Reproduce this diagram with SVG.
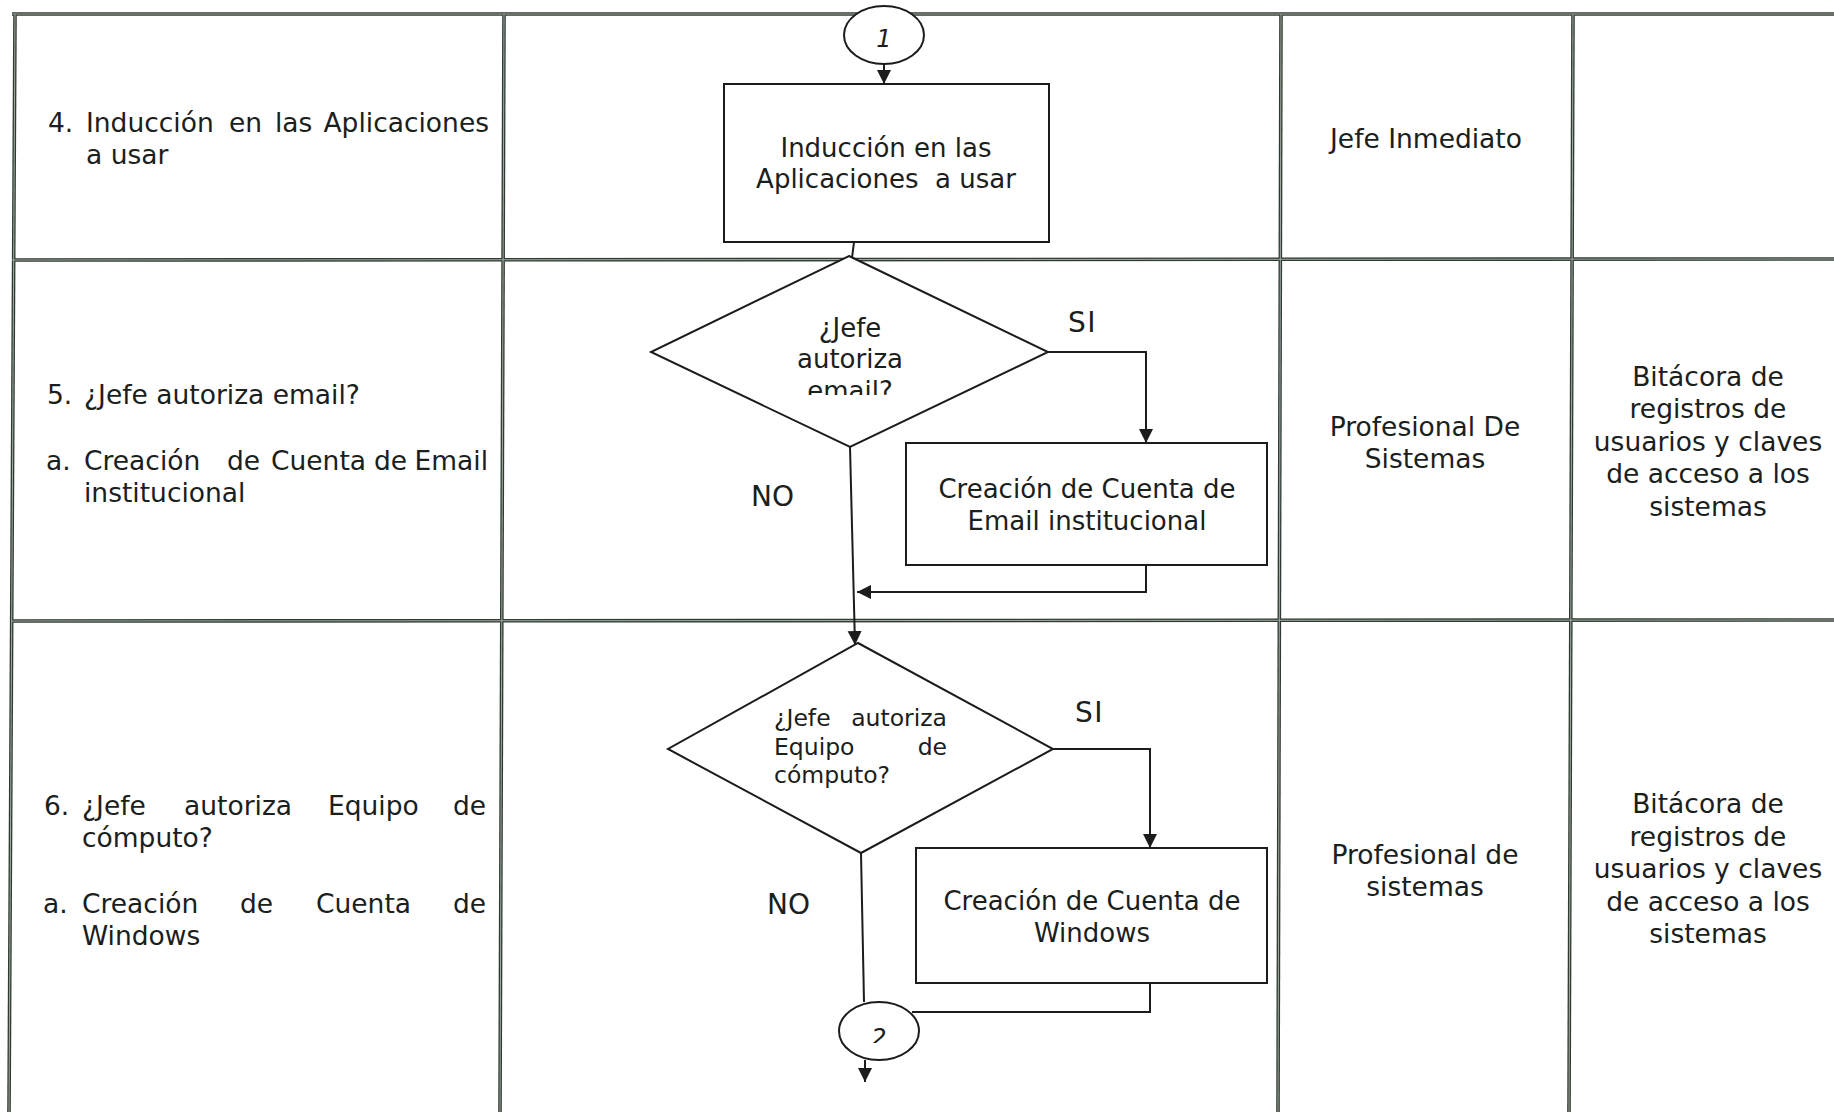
<svg xmlns="http://www.w3.org/2000/svg" width="1834" height="1112" viewBox="0 0 1834 1112">
<style>
  .g1{stroke:#2f3b32;stroke-width:3.6;fill:none}
  .g2{stroke:#a3aba4;stroke-width:1;fill:none}
  .shape{fill:#fff;stroke:#1c1c1c;stroke-width:2}
  .conn{fill:none;stroke:#1c1c1c;stroke-width:2}
  text{font-family:"DejaVu Sans","Verdana",sans-serif;fill:#1a201b;font-size:26.5px}
  .c{text-anchor:middle}
  .e{text-anchor:end}
  .fc{font-size:26px}
  .d2{font-size:23.5px}
  .lbl{font-size:28px}
  .si{letter-spacing:1.5px}
  .num{font-size:24px;font-style:italic}
</style>
<defs>
  <marker id="arr" markerUnits="userSpaceOnUse" markerWidth="15" markerHeight="15" refX="14" refY="7" orient="auto">
    <path d="M0,0 L14,7 L0,14 z" fill="#1c1c1c"/>
  </marker>
  <clipPath id="clipEmail"><rect x="700" y="300" width="300" height="95"/></clipPath>
  <clipPath id="clipTwo"><rect x="840" y="1000" width="80" height="43"/></clipPath>
</defs>
<rect width="1834" height="1112" fill="#fff"/>

<g id="grid">
  <g class="g1">
    <line x1="12" y1="14" x2="1834" y2="14"/>
    <line x1="12" y1="260" x2="1834" y2="259"/>
    <line x1="11" y1="621" x2="1834" y2="620"/>
    <line x1="15" y1="14" x2="9" y2="1112"/>
    <line x1="504" y1="14" x2="500" y2="1112"/>
    <line x1="1281" y1="14" x2="1278" y2="1112"/>
    <line x1="1573" y1="14" x2="1569" y2="1112"/>
  </g>
  <g class="g2">
    <line x1="12" y1="14" x2="1834" y2="14"/>
    <line x1="12" y1="260" x2="1834" y2="259"/>
    <line x1="11" y1="621" x2="1834" y2="620"/>
    <line x1="15" y1="14" x2="9" y2="1112"/>
    <line x1="504" y1="14" x2="500" y2="1112"/>
    <line x1="1281" y1="14" x2="1278" y2="1112"/>
    <line x1="1573" y1="14" x2="1569" y2="1112"/>
  </g>
</g>

<g id="col-activities">
  <g id="act4">
    <text x="48" y="132">4.</text>
    <text x="86" y="132">Inducción</text>
    <text x="229" y="132">en</text>
    <text x="275" y="132">las</text>
    <text x="489" y="132" class="e">Aplicaciones</text>
    <text x="86" y="164">a usar</text>
  </g>
  <g id="act5">
    <text x="47" y="404">5.</text>
    <text x="84" y="404">¿Jefe autoriza email?</text>
    <text x="46" y="470">a.</text>
    <text x="84" y="470">Creación</text>
    <text x="227" y="470">de</text>
    <text x="271" y="470">Cuenta</text>
    <text x="374" y="470">de</text>
    <text x="488" y="470" class="e">Email</text>
    <text x="84" y="502">institucional</text>
  </g>
  <g id="act6">
    <text x="44" y="815">6.</text>
    <text x="82" y="815">¿Jefe</text>
    <text x="184" y="815">autoriza</text>
    <text x="328" y="815">Equipo</text>
    <text x="486" y="815" class="e">de</text>
    <text x="82" y="847">cómputo?</text>
    <text x="43" y="913">a.</text>
    <text x="82" y="913">Creación</text>
    <text x="240" y="913">de</text>
    <text x="316" y="913">Cuenta</text>
    <text x="486" y="913" class="e">de</text>
    <text x="82" y="945">Windows</text>
  </g>
</g>

<g id="col-responsible">
  <text x="1426" y="148" class="c">Jefe Inmediato</text>
  <text x="1425" y="436" class="c">Profesional De</text>
  <text x="1425" y="468" class="c">Sistemas</text>
  <text x="1425" y="864" class="c">Profesional de</text>
  <text x="1425" y="896" class="c">sistemas</text>
</g>

<g id="col-records">
  <g id="rec5">
    <text x="1708" y="386" class="c">Bitácora de</text>
    <text x="1708" y="418" class="c">registros de</text>
    <text x="1708" y="451" class="c">usuarios y claves</text>
    <text x="1708" y="483" class="c">de acceso a los</text>
    <text x="1708" y="516" class="c">sistemas</text>
  </g>
  <g id="rec6">
    <text x="1708" y="813" class="c">Bitácora de</text>
    <text x="1708" y="846" class="c">registros de</text>
    <text x="1708" y="878" class="c">usuarios y claves</text>
    <text x="1708" y="911" class="c">de acceso a los</text>
    <text x="1708" y="943" class="c">sistemas</text>
  </g>
</g>

<g id="connectors">
  <line class="conn" x1="884" y1="64" x2="884" y2="84" marker-end="url(#arr)"/>
  <line class="conn" x1="854" y1="242" x2="852" y2="258"/>
  <polyline class="conn" points="1048,352 1146,352 1146,443" marker-end="url(#arr)"/>
  <line class="conn" x1="850" y1="447" x2="855" y2="645" marker-end="url(#arr)"/>
  <polyline class="conn" points="1146,565 1146,592 857,592" marker-end="url(#arr)"/>
  <polyline class="conn" points="1053,749 1150,749 1150,848" marker-end="url(#arr)"/>
  <line class="conn" x1="861" y1="853" x2="864" y2="1002"/>
  <polyline class="conn" points="1150,983 1150,1012 912,1012"/>
  <line class="conn" x1="865" y1="1060" x2="865" y2="1082" marker-end="url(#arr)"/>
  <text x="1068" y="332" class="lbl si">SI</text>
  <text x="751" y="506" class="lbl">NO</text>
  <text x="1075" y="722" class="lbl si">SI</text>
  <text x="767" y="914" class="lbl">NO</text>
</g>

<g id="connector1">
  <ellipse class="shape" cx="884" cy="35" rx="40" ry="29"/>
  <text x="884" y="47" class="num c">1</text>
</g>

<g id="box1">
  <rect class="shape" x="724" y="84" width="325" height="158"/>
  <text x="886" y="157" class="fc c">Inducción en las</text>
  <text x="886" y="188" class="fc c">Aplicaciones&#160; a usar</text>
</g>

<g id="decision1">
  <polygon class="shape" points="849,256 1048,352 850,447 651,352"/>
  <text x="850" y="337" class="fc c">¿Jefe</text>
  <text x="850" y="368" class="fc c">autoriza</text>
  <text x="850" y="400" class="fc c" clip-path="url(#clipEmail)">email?</text>
</g>

<g id="box2">
  <rect class="shape" x="906" y="443" width="361" height="122"/>
  <text x="1087" y="498" class="fc c">Creación de Cuenta de</text>
  <text x="1087" y="530" class="fc c">Email institucional</text>
</g>

<g id="decision2">
  <polygon class="shape" points="858,643 1053,749 861,853 668,749"/>
  <text x="774" y="726" class="d2">¿Jefe</text>
  <text x="947" y="726" class="d2 e">autoriza</text>
  <text x="774" y="755" class="d2">Equipo</text>
  <text x="947" y="755" class="d2 e">de</text>
  <text x="774" y="783" class="d2">cómputo?</text>
</g>

<g id="box3">
  <rect class="shape" x="916" y="848" width="351" height="135"/>
  <text x="1092" y="910" class="fc c">Creación de Cuenta de</text>
  <text x="1092" y="942" class="fc c">Windows</text>
</g>

<g id="connector2">
  <ellipse class="shape" cx="879" cy="1031" rx="40" ry="29"/>
  <text x="879" y="1046" class="num c" clip-path="url(#clipTwo)">2</text>
</g>
</svg>
